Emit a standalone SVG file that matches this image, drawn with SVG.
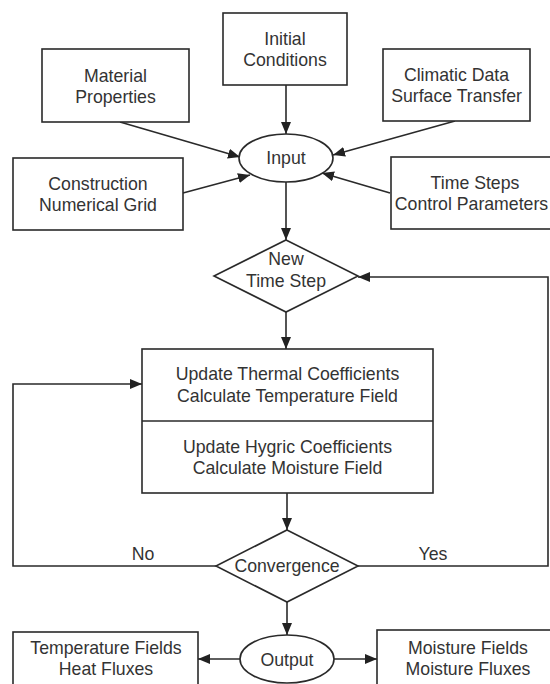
<svg xmlns="http://www.w3.org/2000/svg" width="550" height="684" viewBox="0 0 550 684">
<defs>
<marker id="ah" viewBox="0 0 12 10" refX="12" refY="5" markerWidth="12" markerHeight="10" markerUnits="userSpaceOnUse" orient="auto">
<path d="M0,0 L12,5 L0,10 Z" fill="#222"/>
</marker>
</defs>
<style>
.box{fill:#fff;stroke:#2a2a2a;stroke-width:1.6}
.t{font-family:"Liberation Sans",Arial,sans-serif;font-size:17.7px;fill:#333;text-anchor:middle}
.c{fill:none;stroke:#2a2a2a;stroke-width:1.6}
.a{marker-end:url(#ah)}
</style>
<rect width="550" height="684" fill="#fff"/>
<g id="connectors">
<line class="c a" x1="286" y1="85" x2="286" y2="134"/>
<line class="c a" x1="120" y1="122" x2="240" y2="157"/>
<line class="c a" x1="183" y1="193" x2="250" y2="175"/>
<line class="c a" x1="455" y1="121" x2="333" y2="155"/>
<line class="c a" x1="390" y1="193" x2="322" y2="173"/>
<line class="c a" x1="286" y1="182" x2="286" y2="240"/>
<line class="c a" x1="286" y1="312" x2="286" y2="349"/>
<line class="c a" x1="287" y1="493" x2="287" y2="530"/>
<polyline class="c a" points="216,566 13,566 13,384 142,384"/>
<polyline class="c a" points="358,566 548,566 548,277 358,277"/>
<line class="c a" x1="287" y1="602" x2="287" y2="635"/>
<line class="c a" x1="240" y1="659" x2="198" y2="659"/>
<line class="c a" x1="334" y1="659" x2="377" y2="659"/>
<text class="t" x="143" y="560">No</text>
<text class="t" x="433" y="560">Yes</text>
</g>
<g id="initial">
<rect class="box" x="223" y="13" width="124" height="72"/>
<text class="t" x="285" y="44.5">Initial</text>
<text class="t" x="285" y="66">Conditions</text>
</g>
<g id="material">
<rect class="box" x="42" y="49" width="147" height="73"/>
<text class="t" x="115.5" y="81.5">Material</text>
<text class="t" x="115.5" y="103">Properties</text>
</g>
<g id="climatic">
<rect class="box" x="383" y="49" width="147" height="72"/>
<text class="t" x="456.5" y="80.5">Climatic Data</text>
<text class="t" x="456.5" y="102">Surface Transfer</text>
</g>
<g id="construction">
<rect class="box" x="13" y="158" width="170" height="72"/>
<text class="t" x="98" y="189.5">Construction</text>
<text class="t" x="98" y="211">Numerical Grid</text>
</g>
<g id="timesteps">
<rect class="box" x="391" y="157" width="170" height="72"/>
<text class="t" x="475" y="188.5">Time Steps</text>
<text class="t" x="471.5" y="210">Control Parameters</text>
</g>
<g id="input">
<ellipse class="box" cx="286" cy="158" rx="47" ry="24"/>
<text class="t" x="286" y="163.5">Input</text>
</g>
<g id="newtimestep">
<polygon class="box" points="286,240 358,276 286,312 214,276"/>
<text class="t" x="286" y="265">New</text>
<text class="t" x="286" y="286.5">Time Step</text>
</g>
<g id="solver">
<rect class="box" x="142" y="349" width="291" height="144"/>
<line class="c" x1="142" y1="421" x2="433" y2="421"/>
<text class="t" x="287.5" y="380">Update Thermal Coefficients</text>
<text class="t" x="287.5" y="401.5">Calculate Temperature Field</text>
<text class="t" x="287.5" y="453">Update Hygric Coefficients</text>
<text class="t" x="287.5" y="474">Calculate Moisture Field</text>
</g>
<g id="convergence">
<polygon class="box" points="287,530 358,566 287,602 216,566"/>
<text class="t" x="287" y="572">Convergence</text>
</g>
<g id="output">
<ellipse class="box" cx="287" cy="659" rx="47" ry="24"/>
<text class="t" x="287" y="665.5">Output</text>
</g>
<g id="temperature">
<rect class="box" x="13" y="632" width="185" height="72"/>
<text class="t" x="106" y="654">Temperature Fields</text>
<text class="t" x="106" y="675">Heat Fluxes</text>
</g>
<g id="moisture">
<rect class="box" x="377" y="630" width="182" height="72"/>
<text class="t" x="468" y="654">Moisture Fields</text>
<text class="t" x="468" y="675">Moisture Fluxes</text>
</g>
</svg>
